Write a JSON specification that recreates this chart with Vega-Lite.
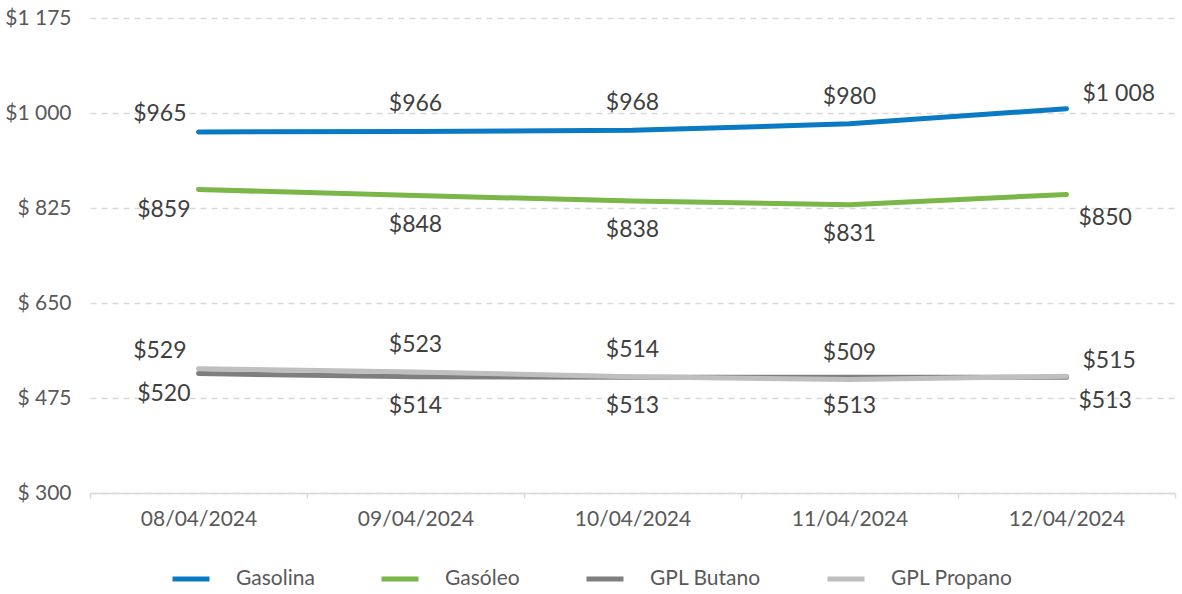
{
  "$schema": "https://vega.github.io/schema/vega-lite/v6.json",
  "autosize": {"type": "none"},
  "width": 1085,
  "height": 475,
  "padding": {"left": 90, "top": 18, "right": 7, "bottom": 101},
  "background": "white",
  "config": {
    "font": "Lato",
    "view": {"stroke": null},
    "axis": {"labelColor": "#595959", "labelFont": "Lato", "labelFontSize": 21, "titleColor": "#595959"}
  },
  "data": {
    "values": [
      {"date": "08/04/2024", "series": "Gasolina", "value": 965},
      {"date": "09/04/2024", "series": "Gasolina", "value": 966},
      {"date": "10/04/2024", "series": "Gasolina", "value": 968},
      {"date": "11/04/2024", "series": "Gasolina", "value": 980},
      {"date": "12/04/2024", "series": "Gasolina", "value": 1008},
      {"date": "08/04/2024", "series": "Gasóleo", "value": 859},
      {"date": "09/04/2024", "series": "Gasóleo", "value": 848},
      {"date": "10/04/2024", "series": "Gasóleo", "value": 838},
      {"date": "11/04/2024", "series": "Gasóleo", "value": 831},
      {"date": "12/04/2024", "series": "Gasóleo", "value": 850},
      {"date": "08/04/2024", "series": "GPL Butano", "value": 520},
      {"date": "09/04/2024", "series": "GPL Butano", "value": 514},
      {"date": "10/04/2024", "series": "GPL Butano", "value": 513},
      {"date": "11/04/2024", "series": "GPL Butano", "value": 513},
      {"date": "12/04/2024", "series": "GPL Butano", "value": 513},
      {"date": "08/04/2024", "series": "GPL Propano", "value": 529},
      {"date": "09/04/2024", "series": "GPL Propano", "value": 523},
      {"date": "10/04/2024", "series": "GPL Propano", "value": 514},
      {"date": "11/04/2024", "series": "GPL Propano", "value": 509},
      {"date": "12/04/2024", "series": "GPL Propano", "value": 515}
    ]
  },
  "transform": [
    {"calculate": "datum.value >= 1000 ? '$1 ' + format(datum.value - 1000, '03d') : '$' + datum.value", "as": "label"},
    {"calculate": "datum.series === 'Gasolina' || datum.series === 'GPL Propano' ? 'above' : 'below'", "as": "side"}
  ],
  "encoding": {
    "x": {
      "field": "date", "type": "nominal", "sort": null,
      "scale": {"type": "band", "paddingInner": 0, "paddingOuter": 0},
      "axis": {
        "title": null, "labelAngle": 0, "labelPadding": 10,
        "domainColor": "#d9d9d9", "domainWidth": 1.5,
        "ticks": true, "tickBand": "extent", "tickColor": "#d9d9d9", "tickSize": 5, "tickWidth": 1.5,
        "grid": false
      }
    },
    "y": {
      "field": "value", "type": "quantitative",
      "scale": {"domain": [300, 1175], "nice": false, "zero": false},
      "axis": {
        "title": null, "values": [300, 475, 650, 825, 1000, 1175],
        "domain": false, "ticks": false, "labelPadding": 19,
        "grid": true, "gridColor": "#d9d9d9", "gridDash": [6, 5], "gridWidth": 1.5,
        "labelExpr": "datum.value >= 1000 ? '$1 ' + format(datum.value - 1000, '03d') : '$ ' + datum.value"
      }
    }
  },
  "layer": [
    {
      "mark": {"type": "line", "strokeWidth": 5, "strokeCap": "round", "strokeJoin": "round"},
      "encoding": {
        "color": {
          "field": "series", "type": "nominal",
          "scale": {"domain": ["Gasolina", "Gasóleo", "GPL Butano", "GPL Propano"], "range": ["#0a7bc2", "#7ab648", "#7f7f7f", "#bfbfbf"]},
          "legend": {
            "title": null, "orient": "none", "direction": "horizontal",
            "legendX": 80, "legendY": 540,
            "symbolType": "stroke", "symbolStrokeWidth": 5, "symbolSize": 1369,
            "labelFont": "Lato", "labelFontSize": 21, "labelColor": "#595959",
            "labelOffset": 24, "columnPadding": 56
          }
        }
      }
    },
    {
      "transform": [{"filter": "datum.side === 'above' && datum.date !== '08/04/2024' && datum.date !== '12/04/2024'"}],
      "mark": {"type": "text", "fontSize": 23, "color": "#404040", "baseline": "middle", "align": "center", "dy": -27, "dx": 0},
      "encoding": {"text": {"field": "label"}}
    },
    {
      "transform": [{"filter": "datum.side === 'above' && datum.date === '08/04/2024'"}],
      "mark": {"type": "text", "fontSize": 23, "color": "#404040", "baseline": "middle", "align": "right", "dy": -18, "dx": -12},
      "encoding": {"text": {"field": "label"}}
    },
    {
      "transform": [{"filter": "datum.side === 'above' && datum.date === '12/04/2024'"}],
      "mark": {"type": "text", "fontSize": 23, "color": "#404040", "baseline": "middle", "align": "left", "dy": -15, "dx": 16},
      "encoding": {"text": {"field": "label"}}
    },
    {
      "transform": [{"filter": "datum.side === 'below' && datum.date !== '08/04/2024' && datum.date !== '12/04/2024'"}],
      "mark": {"type": "text", "fontSize": 23, "color": "#404040", "baseline": "middle", "align": "center", "dy": 29, "dx": 0},
      "encoding": {"text": {"field": "label"}}
    },
    {
      "transform": [{"filter": "datum.side === 'below' && datum.date === '08/04/2024'"}],
      "mark": {"type": "text", "fontSize": 23, "color": "#404040", "baseline": "middle", "align": "right", "dy": 20, "dx": -8},
      "encoding": {"text": {"field": "label"}}
    },
    {
      "transform": [{"filter": "datum.side === 'below' && datum.date === '12/04/2024'"}],
      "mark": {"type": "text", "fontSize": 23, "color": "#404040", "baseline": "middle", "align": "left", "dy": 24, "dx": 12},
      "encoding": {"text": {"field": "label"}}
    }
  ]
}
